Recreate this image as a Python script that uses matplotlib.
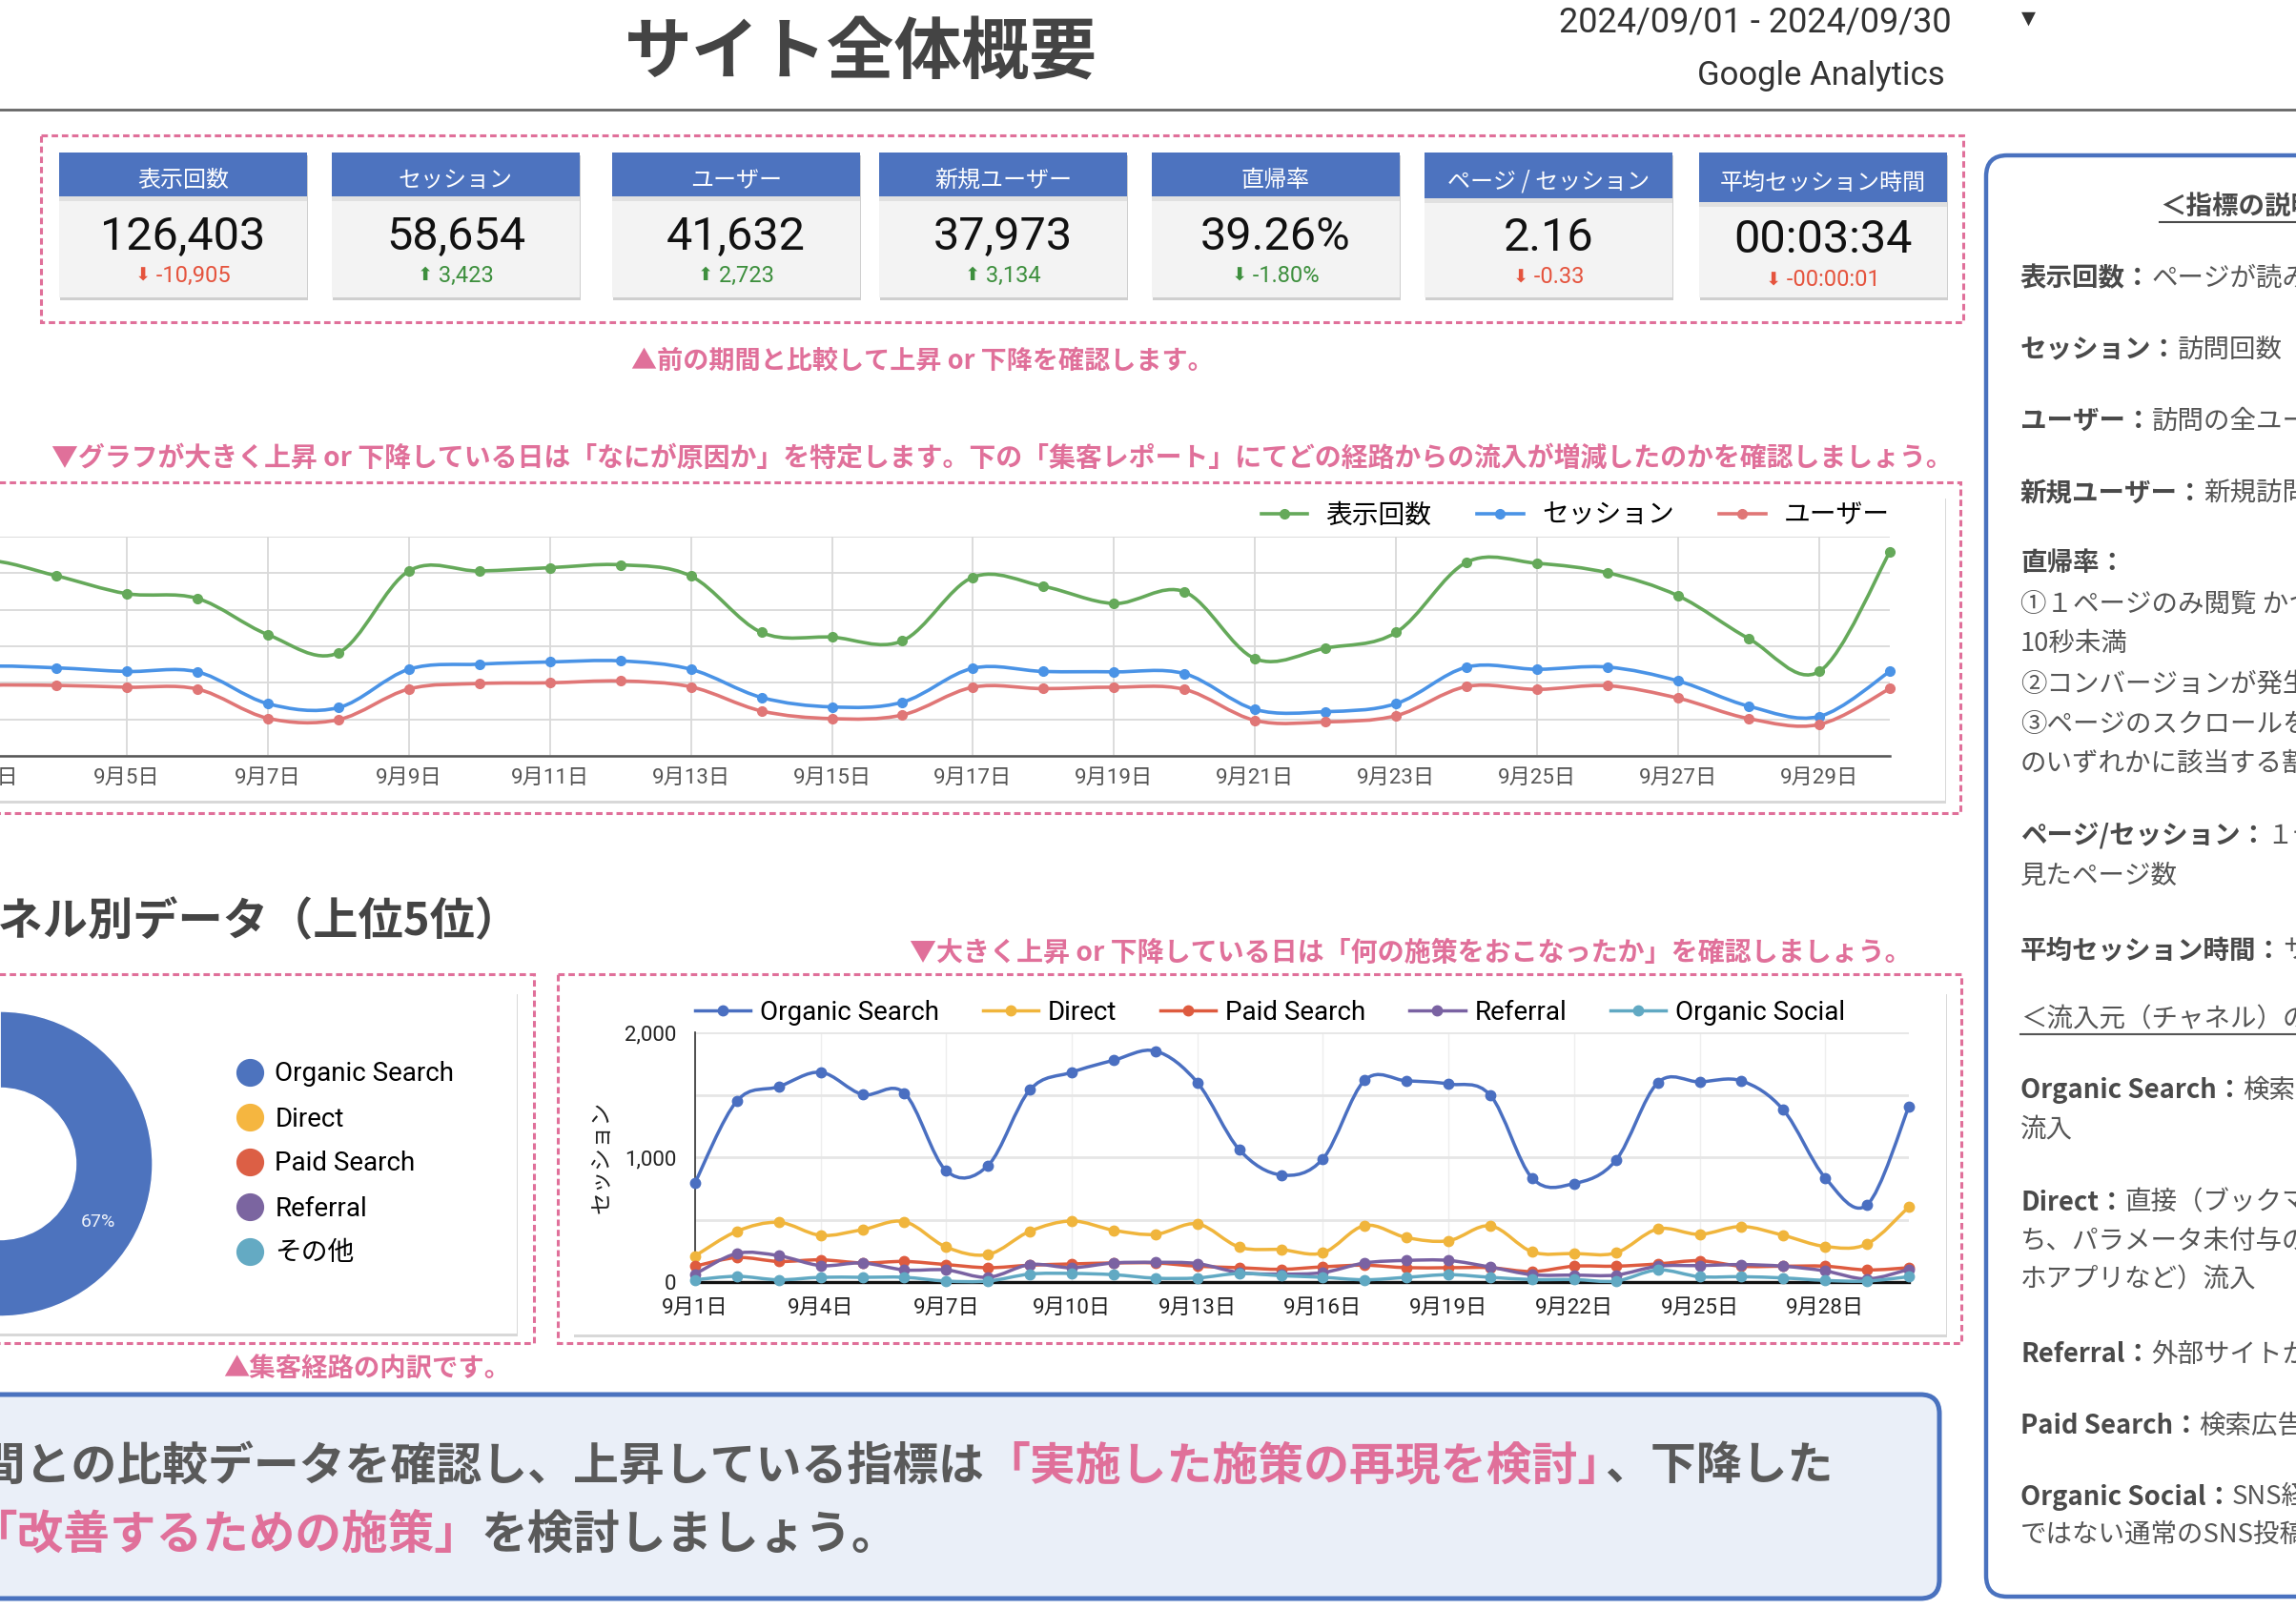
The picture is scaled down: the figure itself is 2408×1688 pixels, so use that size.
import matplotlib
matplotlib.use('Agg')
import matplotlib.pyplot as plt
from matplotlib.patches import Rectangle, FancyBboxPatch, PathPatch
from matplotlib.path import Path
from matplotlib.lines import Line2D
import numpy as np

plt.rcParams['font.family'] = ['Roboto', 'Noto Sans CJK JP', 'DejaVu Sans']
JP = ['Noto Sans CJK JP', 'DejaVu Sans']

W, H = 2408, 1688

# ---- KPI scorecards ----
kpi_names = ['表示回数', 'セッション', 'ユーザー', '新規ユーザー', '直帰率', 'ページ / セッション', '平均セッション時間']
kpi_values = ['126,403', '58,654', '41,632', '37,973', '39.26%', '2.16', '00:03:34']
kpi_deltas = ['-10,905', '3,423', '2,723', '3,134', '-1.80%', '-0.33', '-00:00:01']
kpi_up = [False, True, True, True, False, False, False]
kpi_good = [False, True, True, True, True, False, False]

# ---- daily trend (top chart) ----
days = list(range(1, 31))
pageviews = [2800, 5000, 5350, 4930, 4440, 4310, 3320, 2820, 5060, 5060, 5150, 5230, 4920, 3380, 3250,
             3150, 4890, 4640, 4170, 4490, 2660, 2950, 3380, 5300, 5270, 5010, 4380, 3210, 2310, 5580]
sessions = [1150, 2250, 2450, 2410, 2310, 2300, 1430, 1320, 2370, 2510, 2570, 2600, 2370, 1600, 1340,
            1470, 2400, 2310, 2300, 2250, 1270, 1210, 1430, 2430, 2370, 2430, 2050, 1360, 1080, 2310]
users = [900, 1800, 1930, 1930, 1880, 1830, 1030, 990, 1830, 1980, 2000, 2050, 1890, 1230, 1020,
         1120, 1880, 1840, 1880, 1820, 970, 930, 1100, 1900, 1820, 1920, 1580, 1020, 860, 1840]
trend_names = ['表示回数', 'セッション', 'ユーザー']

# ---- sessions by channel (bottom chart) ----
channel_names = ['Organic Search', 'Direct', 'Paid Search', 'Referral', 'Organic Social']
organic_search = [797, 1451, 1565, 1680, 1502, 1514, 891, 934, 1540, 1680, 1776, 1850, 1598, 1061, 858,
                  987, 1616, 1611, 1586, 1496, 832, 789, 975, 1596, 1603, 1611, 1379, 835, 618, 1405]
direct = [209, 407, 478, 374, 420, 484, 280, 221, 407, 489, 415, 382, 466, 280, 260,
          234, 453, 356, 331, 450, 242, 229, 234, 425, 382, 445, 374, 285, 305, 603]
paid_search = [127, 196, 165, 178, 153, 165, 140, 115, 135, 145, 153, 153, 127, 115, 102,
               122, 135, 115, 115, 115, 84, 127, 127, 145, 171, 127, 127, 127, 97, 115]
referral = [64, 229, 211, 132, 153, 97, 97, 38, 140, 115, 153, 158, 148, 76, 64,
            76, 153, 173, 173, 120, 59, 56, 56, 127, 132, 140, 127, 89, 25, 102]
organic_social = [18, 46, 18, 38, 38, 38, 8, 8, 64, 69, 59, 31, 33, 69, 51,
                  38, 18, 38, 59, 38, 20, 20, 8, 97, 43, 43, 33, 13, 8, 43]

# ---- channel share (donut) ----
share_labels = ['Organic Search', 'Direct', 'Paid Search', 'Referral', 'その他']
share_values = [67, 18, 6, 6, 3]

# colours
PINK = '#e0709a'
BLUE_HEAD = '#4d73bf'
trend_colors = ['#65a95a', '#4a93e6', '#e07676']
channel_colors = ['#4a6fc1', '#f0b53c', '#de5b3f', '#7a62a2', '#61a9c3']
share_colors = ['#4d73be', '#f5b640', '#dc5f45', '#7b65a0', '#64aac3']

fig = plt.figure(figsize=(W / 100, H / 100), dpi=100)
fig.patch.set_facecolor('white')
ax0 = fig.add_axes([0, 0, 1, 1])
ax0.set_xlim(0, W)
ax0.set_ylim(H, 0)
ax0.set_axis_off()
renderer = fig.canvas.get_renderer()


def fig_rect(l, t, r, b):
    return [l / W, 1 - b / H, (r - l) / W, (b - t) / H]


def runs_text(x, y, runs, ha='left'):
    # runs: (text, size, color, weight, family[, kern after, in em])
    objs = []
    cx = x
    for run in runs:
        s, size, color, weight, fam = run[:5]
        kern = run[5] if len(run) > 5 else 0
        if not s:
            continue
        t = ax0.text(cx, y, s, fontsize=size, color=color, fontweight=weight,
                     family=fam, ha='left', va='center')
        cx += t.get_window_extent(renderer).width - kern * size * 100 / 72
        objs.append(t)
    total = cx - x
    shift = {'left': 0, 'center': total / 2, 'right': total}[ha]
    for t in objs:
        t.set_x(t.get_position()[0] - shift)
    return x - shift, x - shift + total


def card(x, y, w, h, fc='white', shadow='#cfcfcf'):
    ax0.add_patch(Rectangle((x + 1, y + 3), w, h, fc=shadow, ec='none', alpha=0.8))
    ax0.add_patch(Rectangle((x, y), w, h, fc=fc, ec='none'))


def dashed_box(x, y, w, h):
    ax0.add_patch(Rectangle((x, y), w, h, fill=False, ec=PINK, lw=2.2, ls=(0, (2.2, 1.3))))


def smooth_path(x, y):
    x = np.asarray(x, float)
    y = np.asarray(y, float)
    n = len(x)
    verts = [(x[0], y[0])]
    codes = [Path.MOVETO]
    for i in range(n - 1):
        xp, yp = (x[i - 1], y[i - 1]) if i > 0 else (x[i], y[i])
        xn, yn = (x[i + 2], y[i + 2]) if i + 2 < n else (x[i + 1], y[i + 1])
        verts.append((x[i] + (x[i + 1] - xp) / 6, y[i] + (y[i + 1] - yp) / 6))
        verts.append((x[i + 1] - (xn - x[i]) / 6, y[i + 1] - (yn - y[i]) / 6))
        verts.append((x[i + 1], y[i + 1]))
        codes += [Path.CURVE4] * 3
    return Path(verts, codes)


# ---- header ----
ax0.text(903, 56, 'サイト全体概要', fontsize=51, fontweight='bold', color='#444444',
         family=JP, ha='center', va='center')
ax0.text(2047, 23, '2024/09/01 - 2024/09/30', fontsize=26, color='#333333', ha='right', va='center')
ax0.text(2040, 80, 'Google Analytics', fontsize=25, color='#333333', ha='right', va='center')
ax0.text(2127, 19, '▼', fontsize=14, color='#333333', family=['DejaVu Sans'], ha='center', va='center')
ax0.plot([0, W], [115, 115], color='#666666', lw=2)

# ---- KPI cards ----
dashed_box(43, 142, 2016, 196)
card_x = [62, 348, 642, 922, 1208, 1494, 1782]
card_w = 260
head_top = 160
head_h = [46, 46, 46, 46, 46, 48, 52]
card_bottom = 312
for i in range(len(kpi_names)):
    x0 = card_x[i]
    cx = x0 + card_w / 2
    card(x0, head_top, card_w, card_bottom - head_top, fc='#f3f3f3', shadow='#c4c4c4')
    ax0.add_patch(Rectangle((x0, head_top + head_h[i]), card_w, 5, fc='#e0e0e0', ec='none'))
    ax0.add_patch(Rectangle((x0, head_top), card_w, head_h[i], fc=BLUE_HEAD, ec='none'))
    ax0.text(cx, head_top + head_h[i] / 2 + 6, kpi_names[i], fontsize=17.3, color='white',
             family=JP, ha='center', va='center')
    extra = head_h[i] - 46
    ax0.text(cx, 249 + extra * 0.5, kpi_values[i], fontsize=35, color='#111111', ha='center', va='center')
    col = '#3d8f3d' if kpi_good[i] else '#e5533d'
    arrow = '⬆' if kpi_up[i] else '⬇'
    runs_text(cx, 289 + extra * 0.8,
              [(arrow, 14, col, 'normal', ['DejaVu Sans']),
               (' ' + kpi_deltas[i], 17, col, 'normal', ['Roboto', 'DejaVu Sans'])], ha='center')

ax0.text(967, 379, '▲前の期間と比較して上昇 or 下降を確認します。', fontsize=19.5, fontweight='bold',
         color=PINK, family=JP, ha='center', va='center')
ax0.text(1051, 481, '▼グラフが大きく上昇 or 下降している日は「なにが原因か」を特定します。下の「集客レポート」'
         'にてどの経路からの流入が増減したのかを確認しましょう。', fontsize=20.1, fontweight='bold',
         color=PINK, family=JP, ha='center', va='center')

# ---- top trend chart ----
dashed_box(-20, 506, 2076, 347)
card(-20, 520, 2060, 320)
ax1 = fig.add_axes(fig_rect(-163, 563, 1982, 793))
ax1.patch.set_alpha(0)
ax1.set_xlim(1, 30)
ax1.set_ylim(0, 6000)
ax1.set_yticks(np.arange(0, 6001, 1000))
odd_days = days[::2]
ax1.set_xticks(odd_days)
ax1.set_xticklabels([f'9月{d}日' for d in odd_days], fontsize=16, color='#555555')
ax1.tick_params(axis='x', length=0, pad=9)
ax1.tick_params(axis='y', length=0, labelleft=False)
ax1.grid(True, color='#d9d9d9', lw=1.3)
ax1.set_axisbelow(True)
for s in ['top', 'right', 'left']:
    ax1.spines[s].set_visible(False)
ax1.spines['bottom'].set_color('#555555')
ax1.spines['bottom'].set_linewidth(1.8)
handles = []
for vals, c, name in zip([pageviews, sessions, users], trend_colors, trend_names):
    ax1.add_patch(PathPatch(smooth_path(days, vals), fill=False, ec=c, lw=2.6,
                            capstyle='round', joinstyle='round', clip_on=False, zorder=3))
    ax1.plot(days, vals, 'o', color=c, ms=7, clip_on=False, zorder=4)
    handles.append(Line2D([], [], color=c, lw=2.6, marker='o', ms=7))
ax1.legend(handles, trend_names, loc='center right', bbox_to_anchor=(1.0, 1.096), ncol=3,
           frameon=False, fontsize=20, handlelength=1.75, handletextpad=0.7, columnspacing=1.7,
           borderpad=0, borderaxespad=0)

# ---- channel section ----
ax0.text(545, 967, 'チャネル別データ（上位5位）', fontsize=34, fontweight='bold', color='#444444',
         family=JP, ha='right', va='center')

dashed_box(-20, 1022, 580, 387)
card(-20, 1040, 562, 359)
axp = fig.add_axes(fig_rect(-160, 1061, 160, 1381))
wedges, texts, autotexts = axp.pie(
    share_values, colors=share_colors, startangle=90, counterclock=False, radius=1,
    wedgeprops=dict(width=0.503, edgecolor='white', linewidth=1),
    autopct=lambda p: f'{p:.0f}%' if p > 50 else '', pctdistance=0.75,
    textprops=dict(color='#eef2fa', fontsize=14))
axp.set_xlim(-1, 1)
axp.set_ylim(-1, 1)
share_handles = [Line2D([], [], ls='none', marker='o', ms=20, mfc=c, mec=c) for c in share_colors]
fig.legend(share_handles, share_labels, loc='center left', bbox_to_anchor=(248 / W, 1 - 1221 / H),
           frameon=False, fontsize=20, handlelength=1.0, handletextpad=0.45, labelspacing=0.72,
           borderpad=0, borderaxespad=0)
ax0.text(385, 1437, '▲集客経路の内訳です。', fontsize=19.7, fontweight='bold', color=PINK,
         family=JP, ha='center', va='center')

# ---- bottom channel chart ----
ax0.text(1479, 1000, '▼大きく上昇 or 下降している日は「何の施策をおこなったか」を確認しましょう。',
         fontsize=20.2, fontweight='bold', color=PINK, family=JP, ha='center', va='center')
dashed_box(585, 1022, 1472, 387)
card(601, 1040, 1440, 360)
ax2 = fig.add_axes(fig_rect(729, 1083, 2002, 1345))
ax2.patch.set_alpha(0)
ax2.set_xlim(1, 30)
ax2.set_ylim(0, 2000)
ax2.set_yticks([0, 500, 1000, 1500, 2000])
ax2.set_yticklabels(['0', '', '1,000', '', '2,000'], fontsize=16, color='#222222')
tri_days = days[::3]
ax2.set_xticks(tri_days)
ax2.set_xticklabels([f'9月{d}日' for d in tri_days], fontsize=16, color='#222222')
ax2.tick_params(axis='both', length=0)
ax2.tick_params(axis='x', pad=12)
ax2.tick_params(axis='y', pad=14)
ax2.grid(True, axis='y', color='#e6e6e6', lw=2)
ax2.grid(True, axis='x', color='#eeeeee', lw=1)
ax2.set_axisbelow(True)
for s in ['top', 'right']:
    ax2.spines[s].set_visible(False)
ax2.spines['left'].set_color('#333333')
ax2.spines['left'].set_linewidth(1.2)
ax2.spines['bottom'].set_color('#111111')
ax2.spines['bottom'].set_linewidth(2.4)
ax2.set_ylabel('セッション', fontsize=17, color='#222222', family=JP)
ax2.yaxis.set_label_coords(-0.068, 0.5)
ch_handles = []
for k, (vals, c) in enumerate(zip([organic_search, direct, paid_search, referral, organic_social],
                                  channel_colors)):
    ax2.add_patch(PathPatch(smooth_path(days, vals), fill=False, ec=c, lw=2.5,
                            capstyle='round', joinstyle='round', clip_on=False, zorder=3 + k))
    ax2.plot(days, vals, 'o', color=c, ms=7.5, clip_on=False, zorder=3 + k)
    ch_handles.append(Line2D([], [], color=c, lw=2.5, marker='o', ms=7.5))
ax2.legend(ch_handles, channel_names, loc='center left', bbox_to_anchor=(0, 1.08), ncol=5,
           frameon=False, fontsize=20, handlelength=2.1, handletextpad=0.35, columnspacing=1.65,
           borderpad=0, borderaxespad=0)

# ---- bottom message box ----
ax0.add_patch(FancyBboxPatch((-60, 1463), 2094, 214, boxstyle='round,pad=0,rounding_size=20',
                             fc='#eaeff8', ec='#4a72bf', lw=3.6))
GRAY = '#5a5a5a'
runs_text(1922, 1538, [('前の期間との比較データを確認し、上昇している指標は', 34.5, GRAY, 'bold', JP),
                       ('「実施した施策の再現を検討」', 34.5, PINK, 'bold', JP, 0.42),
                       ('、下降した', 34.5, GRAY, 'bold', JP)], ha='right')
runs_text(942, 1610, [('指標は', 35, GRAY, 'bold', JP),
                      ('「改善するための施策」', 35, PINK, 'bold', JP),
                      ('を検討しましょう。', 35, GRAY, 'bold', JP)], ha='right')

# ---- right explanation panel ----
ax0.add_patch(FancyBboxPatch((2083, 163), 420, 1512, boxstyle='round,pad=0,rounding_size=22',
                             fc='white', ec='#4a72bf', lw=3.2))
x_l, x_r = runs_text(2265, 218, [('＜指標の説明＞', 19.8, '#4a4a4a', 'bold', JP)])
ax0.plot([x_l, x_r], [233, 233], color='#4a4a4a', lw=1.5)
right_lines = [
    (292, '表示回数：', 'ページが読み込まれた回数'),
    (367, 'セッション：', '訪問回数'),
    (442, 'ユーザー：', '訪問の全ユーザー数'),
    (517, '新規ユーザー：', '新規訪問ユーザー数'),
    (591, '直帰率：', ''),
    (634, '', '①１ページのみ閲覧 かつ 滞在時間が'),
    (675, '', '10秒未満'),
    (718, '', '②コンバージョンが発生していない'),
    (760, '', '③ページのスクロールをしていない'),
    (801, '', 'のいずれかに該当する割合'),
    (877, 'ページ/セッション：', '１セッションで'),
    (919, '', '見たページ数'),
    (997, '平均セッション時間：', 'サイトの平均滞在時間'),
    (1144, 'Organic Search：', '検索エンジンからの'),
    (1185, '', '流入'),
    (1262, 'Direct：', '直接（ブックマークやURL直打'),
    (1302, '', 'ち、パラメータ未付与のメール、スマ'),
    (1343, '', 'ホアプリなど）流入'),
    (1421, 'Referral：', '外部サイトからの流入'),
    (1496, 'Paid Search：', '検索広告からの流入'),
    (1571, 'Organic Social：', 'SNS経由（広告'),
    (1611, '', 'ではない通常のSNS投稿）からの流入'),
]
for y, b, r in right_lines:
    runs_text(2119, y, [(b, 19.8, '#4a4a4a', 'bold', JP), (r, 19.8, '#555555', 'normal', JP)])
x_l, x_r = runs_text(2119, 1070, [('＜流入元（チャネル）の説明＞', 19.8, '#555555', 'normal', JP)])
ax0.plot([x_l, x_r], [1085, 1085], color='#555555', lw=1.5)

fig.savefig('out.png', dpi=100)
